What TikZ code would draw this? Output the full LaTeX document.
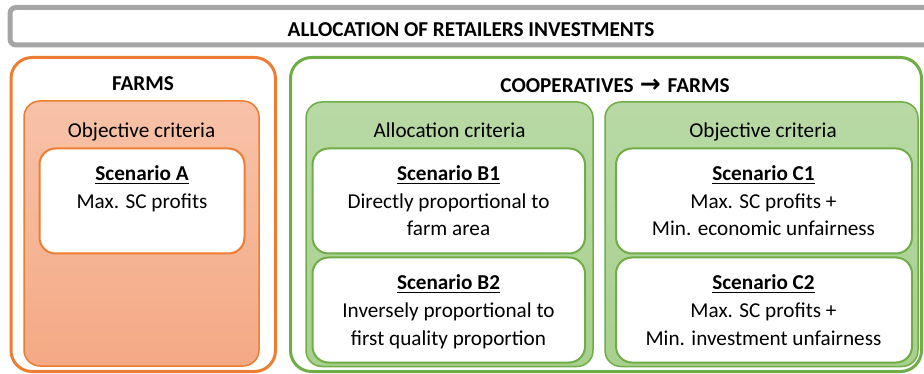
\documentclass[tikz,border=0pt]{standalone}
\usepackage{fontspec}
\setmainfont{Carlito}
\newfontfamily\arrowfont{DejaVu Sans}
\definecolor{orng}{HTML}{ED7D31}
\definecolor{grn}{HTML}{70AD47}
\definecolor{gry}{HTML}{A5A5A5}
\definecolor{otop}{HTML}{F7C2A8}
\definecolor{obot}{HTML}{F4A985}
\definecolor{gtop}{HTML}{B8D9A5}
\definecolor{gbot}{HTML}{A8D08D}
\begin{document}
\begin{tikzpicture}[x=1pt,y=-1pt,
  txt/.style={font=\fontsize{21.2}{28}\selectfont, inner sep=0pt, anchor=base},
  bld/.style={txt, font=\fontsize{21.2}{28}\selectfont\bfseries},
  outerbox/.style={line width=3pt, rounded corners=21pt, fill=white},
  fillbox/.style={line width=1.5pt, rounded corners=16pt},
  whitebox/.style={line width=2pt, rounded corners=16pt, fill=white},
  uline/.style={line width=1.3pt}]
\useasboundingbox (0,0) rectangle (924,374);
% title bar
\draw[gry, line width=5pt, rounded corners=6pt, fill=white] (10,7.5) rectangle (960,45);
\node[bld] (title) at (471,36.5) {ALLOCATION OF RETAILERS INVESTMENTS};
% farms
\draw[orng, outerbox] (11,57.5) rectangle (275.5,371.5);
\node[bld] (farms) at (143,91) {FARMS};
\draw[orng, fillbox, top color=otop, bottom color=obot] (24,101) rectangle (259,366);
\node[txt] (objA) at (141.5,137.5) {Objective criteria};
\draw[orng, whitebox] (39.5,148.5) rectangle (244.5,253.5);
\node[bld] (sA) at (142,180.5) {Scenario A};
\draw[uline] ([yshift=-2.8pt]sA.base west) -- ([yshift=-2.8pt]sA.base east);
\node[txt] (sA1) at (142,208.5) {Max. SC profits};
% cooperatives
\draw[grn, outerbox] (290.5,57.5) rectangle (921.5,371.5);
\node[bld] (coop) at (615,93) {COOPERATIVES\hspace{6pt}{\arrowfont\bfseries\fontsize{25}{28}\selectfont →}\hspace{7pt}FARMS};
\draw[grn, fillbox, top color=gtop, bottom color=gbot] (306,102) rectangle (593,366.5);
\draw[grn, fillbox, top color=gtop, bottom color=gbot] (605,102) rectangle (918,366.5);
\node[txt] (alloc) at (449.5,137.5) {Allocation criteria};
\node[txt] (objC) at (763,137.5) {Objective criteria};
% B boxes
\draw[grn, whitebox] (312.5,148.5) rectangle (585,253.5);
\draw[grn, whitebox] (312.5,257.5) rectangle (585,362.5);
\node[bld] (sB1) at (448.5,180.5) {Scenario B1};
\draw[uline] ([yshift=-2.8pt]sB1.base west) -- ([yshift=-2.8pt]sB1.base east);
\node[txt] (sB1a) at (448.5,208.5) {Directly proportional to};
\node[txt] (sB1b) at (448.5,236) {farm area};
\node[bld] (sB2) at (448.5,289.5) {Scenario B2};
\draw[uline] ([yshift=-2.8pt]sB2.base west) -- ([yshift=-2.8pt]sB2.base east);
\node[txt] (sB2a) at (448.5,317.5) {Inversely proportional to};
\node[txt] (sB2b) at (448.5,345) {first quality proportion};
% C boxes
\draw[grn, whitebox] (616,148.5) rectangle (912,253.5);
\draw[grn, whitebox] (616,257.5) rectangle (912,362.5);
\node[bld] (sC1) at (763.5,180.5) {Scenario C1};
\draw[uline] ([yshift=-2.8pt]sC1.base west) -- ([yshift=-2.8pt]sC1.base east);
\node[txt] (sC1a) at (763.5,208.5) {Max. SC profits +};
\node[txt] (sC1b) at (763.5,236) {Min. economic unfairness};
\node[bld] (sC2) at (763.5,289.5) {Scenario C2};
\draw[uline] ([yshift=-2.8pt]sC2.base west) -- ([yshift=-2.8pt]sC2.base east);
\node[txt] (sC2a) at (763.5,317.5) {Max. SC profits +};
\node[txt] (sC2b) at (763.5,345) {Min. investment unfairness};
\end{tikzpicture}
\end{document}
